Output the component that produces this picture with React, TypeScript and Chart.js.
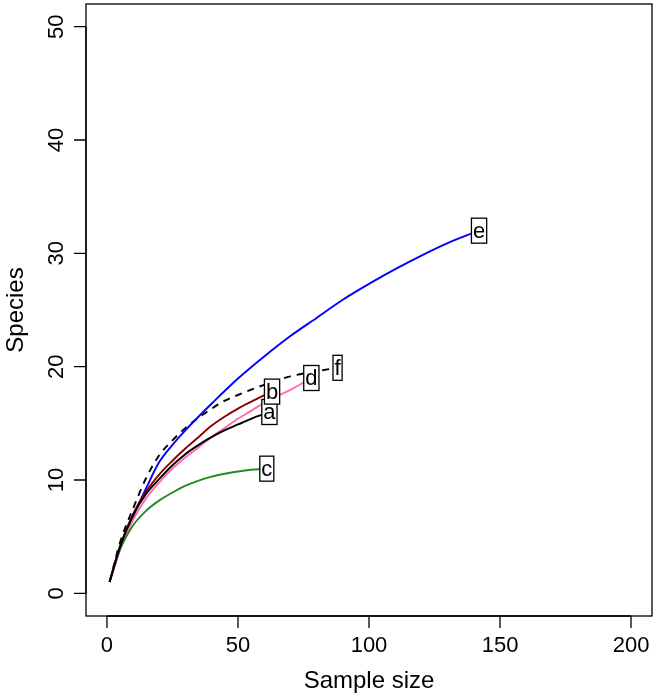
import { useEffect, useRef } from "react";
import { Chart, registerables } from "chart.js";

Chart.register(...registerables);

const FONT = '"Liberation Sans", Arial, Helvetica, sans-serif';

// Rarefaction curves: sample size (x) vs expected species (y)
const curveLabels = ["a", "b", "c", "d", "e", "f"];
const curveColors = ["#000000", "#8B0000", "#228B22", "#FF69B4", "#0000FF", "#000000"];
const curveDashes: number[][] = [[], [], [], [], [], [7, 6]];

const aSize = [1, 5, 10, 15, 20, 25, 30, 35, 40, 45, 50, 55, 62];
const aSpecies = [1, 4.1, 6.9, 8.8, 10.1, 11.3, 12.3, 13.1, 13.8, 14.4, 14.9, 15.4, 16.0];

const bSize = [1, 5, 10, 15, 20, 25, 30, 35, 40, 45, 50, 55, 63];
const bSpecies = [1, 4.2, 7.0, 9.0, 10.5, 11.7, 12.8, 13.8, 14.8, 15.6, 16.3, 16.9, 17.8];

const cSize = [1, 3, 5, 10, 15, 20, 25, 30, 35, 40, 45, 50, 55, 61];
const cSpecies = [1, 2.7, 3.9, 6.0, 7.3, 8.2, 8.9, 9.5, 9.95, 10.3, 10.55, 10.75, 10.9, 11.0];

const dSize = [1, 5, 10, 15, 20, 25, 30, 35, 40, 45, 50, 55, 60, 65, 70, 78];
const dSpecies = [1, 3.9, 6.5, 8.4, 9.8, 11.0, 12.0, 12.9, 13.8, 14.6, 15.4, 16.1, 16.8, 17.4, 17.95, 19.0];

const eSize = [1, 5, 10, 15, 20, 25, 30, 35, 40, 50, 60, 70, 80, 90, 100, 110, 120, 130, 142];
const eSpecies = [1, 3.9, 6.8, 9.3, 11.6, 13.1, 14.4, 15.6, 16.75, 18.95, 20.9, 22.7, 24.3, 25.9, 27.3, 28.6, 29.8, 30.9, 32.0];

const fSize = [1, 5, 10, 15, 20, 25, 30, 35, 40, 45, 50, 60, 70, 80, 88];
const fSpecies = [1, 4.5, 7.5, 10.2, 12.2, 13.5, 14.6, 15.5, 16.3, 17.0, 17.5, 18.4, 19.15, 19.6, 19.9];

const sizes = [aSize, bSize, cSize, dSize, eSize, fSize];
const species = [aSpecies, bSpecies, cSpecies, dSpecies, eSpecies, fSpecies];

const xTicks = [0, 50, 100, 150, 200];
const yTicks = [0, 10, 20, 30, 40, 50];
const xTitle = "Sample size";
const yTitle = "Species";

const rPlot = {
  id: "rPlot",
  afterDatasetsDraw(chart: any) {
    const ctx = chart.ctx as CanvasRenderingContext2D;
    const { left, right, top, bottom } = chart.chartArea;
    const xs = chart.scales.x;
    const ys = chart.scales.y;
    ctx.save();

    // curve-end labels
    ctx.font = `22px ${FONT}`;
    ctx.textAlign = "center";
    ctx.textBaseline = "middle";
    chart.data.datasets.forEach((ds: any) => {
      const last = ds.data[ds.data.length - 1];
      const px = xs.getPixelForValue(last.x);
      const py = ys.getPixelForValue(last.y);
      const w = ctx.measureText(ds.label).width + 3;
      const h = 25;
      ctx.fillStyle = "#ffffff";
      ctx.fillRect(px - w / 2, py - h / 2, w, h);
      ctx.strokeStyle = "#000000";
      ctx.lineWidth = 1.3;
      ctx.strokeRect(px - w / 2, py - h / 2, w, h);
      ctx.fillStyle = "#000000";
      ctx.fillText(ds.label, px, py + 1);
    });

    // box
    ctx.strokeStyle = "#000000";
    ctx.lineWidth = 1.3;
    ctx.strokeRect(left, top, right - left, bottom - top);

    const tick = 12;
    ctx.beginPath();
    ctx.moveTo(xs.getPixelForValue(xTicks[0]), bottom);
    ctx.lineTo(xs.getPixelForValue(xTicks[xTicks.length - 1]), bottom);
    xTicks.forEach((v) => {
      const px = xs.getPixelForValue(v);
      ctx.moveTo(px, bottom);
      ctx.lineTo(px, bottom + tick);
    });
    ctx.moveTo(left, ys.getPixelForValue(yTicks[0]));
    ctx.lineTo(left, ys.getPixelForValue(yTicks[yTicks.length - 1]));
    yTicks.forEach((v) => {
      const py = ys.getPixelForValue(v);
      ctx.moveTo(left, py);
      ctx.lineTo(left - tick, py);
    });
    ctx.stroke();

    ctx.fillStyle = "#000000";
    ctx.font = `22px ${FONT}`;
    ctx.textAlign = "center";
    ctx.textBaseline = "middle";
    xTicks.forEach((v) => {
      ctx.fillText(String(v), xs.getPixelForValue(v), bottom + 30);
    });
    yTicks.forEach((v) => {
      ctx.save();
      ctx.translate(left - 29, ys.getPixelForValue(v));
      ctx.rotate(-Math.PI / 2);
      ctx.fillText(String(v), 0, 0);
      ctx.restore();
    });

    // axis titles
    ctx.font = `24px ${FONT}`;
    ctx.fillText(xTitle, (left + right) / 2, bottom + 65);
    ctx.save();
    ctx.translate(left - 70, (top + bottom) / 2);
    ctx.rotate(-Math.PI / 2);
    ctx.fillText(yTitle, 0, 0);
    ctx.restore();

    ctx.restore();
  },
};

export default function App() {
  const ref = useRef<HTMLCanvasElement | null>(null);

  useEffect(() => {
    if (!ref.current) return;
    const datasets = curveLabels.map((lab, i) => ({
      label: lab,
      data: sizes[i].map((x, j) => ({ x, y: species[i][j] })),
      borderColor: curveColors[i],
      backgroundColor: curveColors[i],
      borderWidth: 1.9,
      borderDash: curveDashes[i],
      pointRadius: 0,
      cubicInterpolationMode: "monotone" as const,
      fill: false,
    }));
    const chart = new Chart(ref.current, {
      type: "line",
      data: { datasets },
      options: {
        responsive: false,
        animation: false,
        events: [],
        layout: { padding: { left: 86, right: 3, top: 4, bottom: 79 } },
        plugins: { legend: { display: false }, tooltip: { enabled: false } },
        scales: {
          x: { type: "linear", min: -8, max: 208, display: false },
          y: { type: "linear", min: -2, max: 52, display: false },
        },
      },
      plugins: [rPlot],
    });
    return () => chart.destroy();
  }, []);

  return (
    <div style={{ position: "fixed", left: 0, top: 0, width: 655, height: 695, background: "#fff" }}>
      <canvas ref={ref} width={655} height={695} style={{ display: "block" }} />
    </div>
  );
}
